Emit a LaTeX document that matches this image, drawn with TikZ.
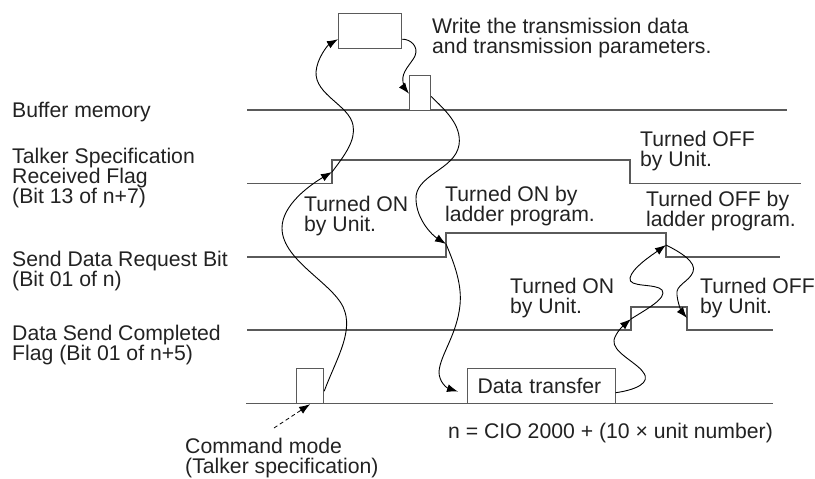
\documentclass[tikz,border=0pt]{standalone}
\usepackage{fontspec}
\setmainfont{Liberation Sans}
\usetikzlibrary{arrows.meta}
\definecolor{sigline}{HTML}{5A5A5A}
\definecolor{txt}{HTML}{222222}
\newcommand{\lblfont}{\fontsize{21.2}{20}\selectfont}
\tikzset{
  sig/.style={sigline, line width=1.4pt},
  memo/.style={draw=sigline, line width=1.2pt, fill=white, inner sep=0pt, minimum height=35pt, anchor=north west},
  lbl/.style={anchor=base west, align=left, inner sep=0pt, text=txt, font=\lblfont},
  flow/.style={line width=0.9pt, -{Latex[length=11pt,width=8pt]}},
}
\begin{document}
\begin{tikzpicture}[x=1pt, y=-1pt]
	\useasboundingbox (0,0) rectangle (815,479);
	% signal lines
	\draw [sig] (247,110) -- (787,110);
	\draw [sig] (247,183.5) -| (332,160) -| (630,183.5) -- (801,183.5);
	\draw [sig] (247,257) -| (446,233) -| (666,257) -- (780,257);
	\draw [sig] (247,330) -| (631,307) -| (687,330) -- (773,330);
	\draw [sig] (246,403.5) -- (773,403.5);
	% boxes
	\node [memo, minimum width=63pt] (wbox) at (338,13) {};
	\node [memo, minimum width=21pt] (bbox) at (409,74.5) {};
	\node [memo, minimum width=27pt] (cbox) at (296,368) {};
	\node [memo, minimum width=147.5pt, text width=127.5pt, inner xsep=10pt, align=left, text=txt, font=\lblfont] (dbox) at (467,367.5) {Data transfer};
	% edges
	\coordinate (tf-on) at (332,172);
	\coordinate (sd-on) at (446,244);
	\coordinate (sd-off) at (666,245);
	\coordinate (dc-on) at (631,319);
	\coordinate (dc-off) at (687,318);
	\coordinate (cm-tail) at (274,428);
	% labels (base = last line)
	\node [lbl] (buf) at (12,117) {Buffer memory};
	\node [lbl] (tsrf) at (12,203.5) {Talker Specification\\Received Flag\\(Bit 13 of n+7)};
	\node [lbl] (sdrb) at (12,286) {Send Data Request Bit\\(Bit 01 of n)};
	\node [lbl] (dscf) at (12,360) {Data Send Completed\\Flag (Bit 01 of n+5)};
	\node [lbl] (wrt) at (432,53) {Write the transmission data\\and transmission parameters.};
	\node [lbl] (on1) at (304,231.5) {Turned ON\\by Unit.};
	\node [lbl] (on2) at (445,221.5) {Turned ON by\\ladder program.};
	\node [lbl] (off1) at (640,166) {Turned OFF\\by Unit.};
	\node [lbl] (off2) at (646,226) {Turned OFF by\\ladder program.};
	\node [lbl] (on3) at (510,313) {Turned ON\\by Unit.};
	\node [lbl] (off3) at (700,313) {Turned OFF\\by Unit.};
	\node [lbl] (cmd) at (185,473) {Command mode\\(Talker specification)};
	\node [lbl] (nform) at (448,438) {n = CIO 2000 + (10 × unit number)};
	% sequence
	\draw [flow] ([yshift=13pt]cbox.south east) .. controls (335,362) and (352,335) .. (345,312) .. controls (338,285) and (282,262) .. (282,228) .. controls (282,205) and (310,185) .. (tf-on);
	\draw [flow] (tf-on) .. controls (345,155) and (356,140) .. (353,125) .. controls (349,105) and (315,95) .. (316,72) .. controls (317,58) and (328,45) .. ([yshift=10pt]wbox.south west);
	\draw [flow] ([yshift=10pt]wbox.south east) .. controls (410,39) and (419,46) .. (415,56) .. controls (411,64) and (401,72) .. (403,82) .. controls (404,87) and (406,90) .. ([yshift=17pt]bbox.south west);
	\draw [flow] ([yshift=-22pt]bbox.north east) .. controls (445,110) and (462,125) .. (459,145) .. controls (455,170) and (414,175) .. (416,200) .. controls (417,220) and (432,235) .. (sd-on);
	\draw [flow] (sd-on) .. controls (455,265) and (462,285) .. (460,305) .. controls (457,335) and (440,355) .. (439,372) .. controls (439,382) and (447,388) .. ([xshift=-9pt,yshift=-6pt]dbox.west);
	\draw [flow] ([yshift=11pt]dbox.south east) .. controls (635,390) and (652,383) .. (643,372) .. controls (636,362) and (612,352) .. (614,340) .. controls (616,332) and (624,325) .. (dc-on);
	\draw [flow] (dc-on) .. controls (645,310) and (668,298) .. (662,290) .. controls (656,283) and (628,288) .. (630,278) .. controls (632,268) and (652,255) .. (sd-off);
	\draw [flow] (sd-off) .. controls (680,252) and (697,262) .. (693,272) .. controls (689,282) and (675,285) .. (677,295) .. controls (678,305) and (682,312) .. (dc-off);
	\draw [flow, line width=0.8pt, dash pattern=on 4pt off 3pt] (cm-tail) -- (cbox.south);
	%\draw [sig] (0,0) rectangle (815,479);
\end{tikzpicture}
\end{document}
